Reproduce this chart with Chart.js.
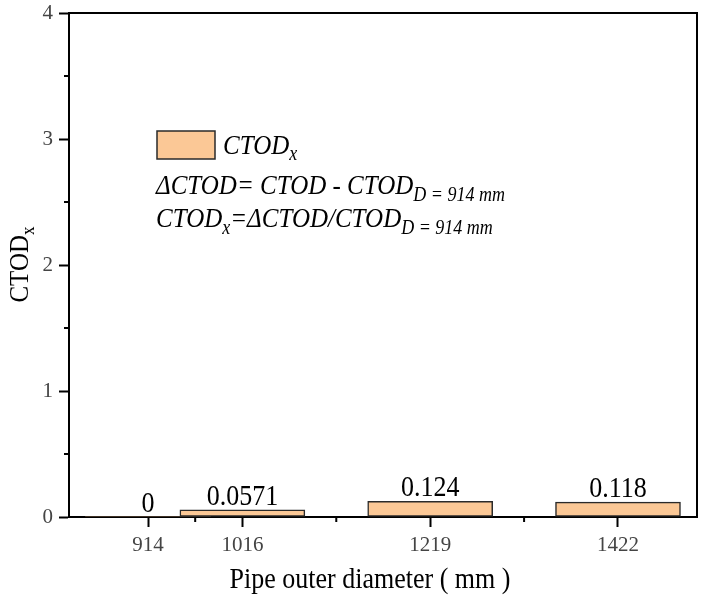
<!DOCTYPE html>
<html>
<head>
<meta charset="utf-8">
<script src="https://cdn.jsdelivr.net/npm/chart.js@4.4.0/dist/chart.umd.min.js"></script>
<style>
    html, body { margin: 0; padding: 0; background: #fff; }
    #wrap { width: 706px; height: 602px; }
</style>
</head>
<body>
<div id="wrap"><canvas id="ctod"></canvas></div>
<script>
// data
const diameters = [914, 1016, 1219, 1422];
const ctodX = [0, 0.0571, 0.124, 0.118];
const valueLabels = ["0", "0.0571", "0.124", "0.118"];
const yTicks = [0, 1, 2, 3, 4];
const xMin = 828.6;
const xMax = 1507.4;

const serif = "'Liberation Serif', 'Times New Roman', serif";
const barFill = "#fbc896";
const barLine = "#2a2a2a";
const tall = 1.12; // glyphs in the original look a bit taller than wide

// legend / note text, pieces are [text, isSubscript]
const legendLabel = [["CTOD", false], ["x", true]];
const noteLines = [
    [["\u0394CTOD= CTOD - CTOD", false], ["D = 914 mm", true]],
    [["CTOD", false], ["x", true], ["=\u0394CTOD/CTOD", false], ["D = 914 mm", true]],
];

function tallText(ctx, txt, x, y) {
    ctx.save();
    ctx.translate(x, y);
    ctx.scale(1, tall);
    ctx.fillText(txt, 0, 0);
    ctx.restore();
}

function drawPieces(ctx, pieces, x, y, size, subSize, subDrop, style) {
    pieces.forEach(([txt, sub]) => {
        ctx.font = style + (sub ? subSize : size) + "px " + serif;
        tallText(ctx, txt, x, sub ? y + subDrop : y);
        x += ctx.measureText(txt).width;
    });
    return x;
}

const extras = {
    id: "extras",
    afterDraw(chart) {
        const ctx = chart.ctx;
        const a = chart.chartArea;
        const xs = chart.scales.x;
        const ys = chart.scales.y;
        ctx.save();

        // top and right frame
        ctx.strokeStyle = "#000";
        ctx.lineWidth = 2;
        ctx.beginPath();
        ctx.moveTo(a.left - 1, a.top);
        ctx.lineTo(a.right, a.top);
        ctx.lineTo(a.right, a.bottom);
        ctx.stroke();

        // minor ticks
        ctx.beginPath();
        for (let i = 0; i < yTicks.length - 1; i++) {
            const py = ys.getPixelForValue((yTicks[i] + yTicks[i + 1]) / 2);
            ctx.moveTo(a.left - 5, py);
            ctx.lineTo(a.left, py);
        }
        for (let i = 0; i < diameters.length - 1; i++) {
            const px = xs.getPixelForValue((diameters[i] + diameters[i + 1]) / 2);
            ctx.moveTo(px, a.bottom);
            ctx.lineTo(px, a.bottom + 5);
        }
        ctx.stroke();

        // value labels above bars
        ctx.fillStyle = "#000";
        ctx.textAlign = "center";
        ctx.textBaseline = "alphabetic";
        ctx.font = "26px " + serif;
        chart.getDatasetMeta(0).data.forEach((bar, i) => {
            tallText(ctx, valueLabels[i], bar.x, bar.y - 5);
        });

        // legend box + notes
        ctx.textAlign = "left";
        const lx = a.left + 88, ly = a.top + 118;
        ctx.fillStyle = barFill;
        ctx.fillRect(lx, ly, 58, 28);
        ctx.strokeStyle = barLine;
        ctx.lineWidth = 1.5;
        ctx.strokeRect(lx, ly, 58, 28);
        ctx.fillStyle = "#000";
        drawPieces(ctx, legendLabel, lx + 66, ly + 23, 25, 18, 6, "italic ");
        noteLines.forEach((line, i) => {
            drawPieces(ctx, line, lx - 1, ly + 63 + i * 33, 25, 18, 7, "italic ");
        });

        // axis titles
        ctx.font = "26px " + serif;
        ctx.textAlign = "center";
        tallText(ctx, "Pipe outer diameter ( mm )", (a.left + a.right) / 2 - 13, a.bottom + 71);

        ctx.translate(28, (a.top + a.bottom) / 2);
        ctx.rotate(-Math.PI / 2);
        ctx.textAlign = "left";
        ctx.font = "25px " + serif;
        const w1 = ctx.measureText("CTOD").width;
        ctx.font = "italic 17px " + serif;
        const w2 = ctx.measureText("x").width;
        drawPieces(ctx, [["CTOD", false], ["x", true]], -(w1 + w2) / 2, 0, 25, 17, 6, "");
        ctx.restore();
    },
};

new Chart(document.getElementById("ctod"), {
    type: "bar",
    data: {
        datasets: [
            {
                label: "CTODx",
                data: diameters.map((d, i) => ({ x: d, y: ctodX[i] })),
                backgroundColor: barFill,
                borderColor: barLine,
                borderWidth: ctodX.map(v => (v === 0 ? 0 : 1.5)),
                borderSkipped: false,
                barThickness: 125,
            },
        ],
    },
    options: {
        responsive: true,
        maintainAspectRatio: false,
        animation: false,
        layout: {
            padding: { top: 13, right: 9, left: 0, bottom: 0 },
        },
        plugins: {
            legend: { display: false },
            tooltip: { enabled: false },
        },
        scales: {
            x: {
                type: "linear",
                min: xMin,
                max: xMax,
                offset: false,
                afterBuildTicks: (scale) => {
                    scale.ticks = diameters.map(v => ({ value: v }));
                },
                afterFit: (scale) => {
                    scale.height = 85;
                    scale.paddingLeft = 0;
                    scale.paddingRight = 0;
                },
                ticks: {
                    autoSkip: false,
                    maxRotation: 0,
                    padding: 6,
                    color: "#444",
                    font: { family: serif, size: 21 },
                    callback: (v) => String(v),
                },
                grid: {
                    offset: false,
                    drawOnChartArea: false,
                    tickLength: 10,
                    tickColor: "#000",
                    tickWidth: 2,
                },
                border: { display: true, color: "#000", width: 2 },
            },
            y: {
                min: 0,
                max: 4,
                afterBuildTicks: (scale) => {
                    scale.ticks = yTicks.map(v => ({ value: v }));
                },
                afterFit: (scale) => {
                    scale.width = 69;
                    scale.paddingTop = 0;
                    scale.paddingBottom = 0;
                },
                ticks: {
                    padding: 6,
                    color: "#444",
                    font: { family: serif, size: 21 },
                    callback: (v) => String(v),
                },
                grid: {
                    drawOnChartArea: false,
                    tickLength: 10,
                    tickColor: "#000",
                    tickWidth: 2,
                },
                border: { display: true, color: "#000", width: 2 },
            },
        },
    },
    plugins: [extras],
});
</script>
</body>
</html>
